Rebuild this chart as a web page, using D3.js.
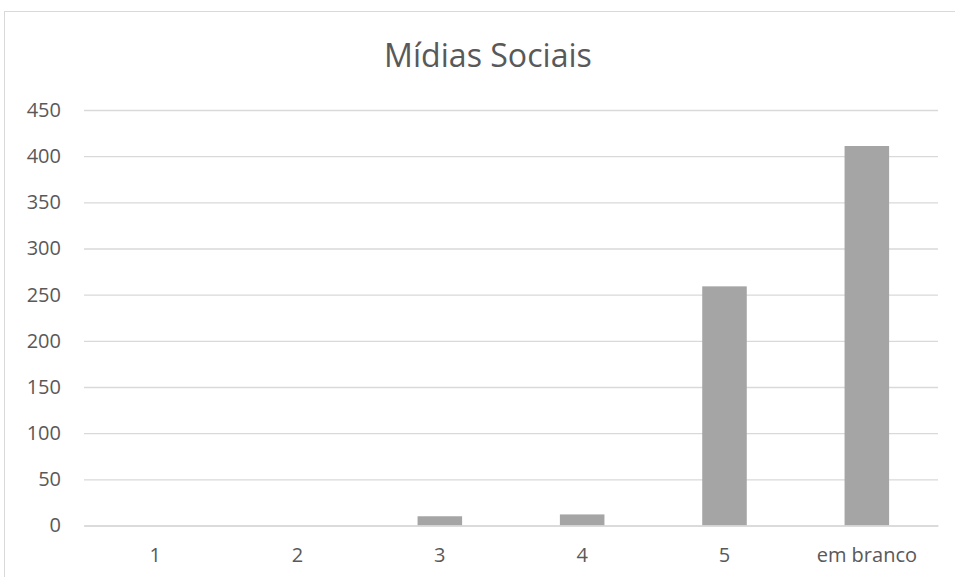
<!DOCTYPE html>
<html><head><meta charset="utf-8">
<script src="https://cdn.jsdelivr.net/npm/d3@7"></script>
<style>body{margin:0;background:#fff}svg{display:block}</style>
</head><body>
<script>
const categories = ["1","2","3","4","5","em branco"];
const values = [0,0,10,12,259,411];
const yTicks = [0,50,100,150,200,250,300,350,400,450];
const title = "Mídias Sociais";

const W=955,H=577;
const svg=d3.select("body").append("svg").attr("width",W).attr("height",H);
svg.append("rect").attr("x",4.5).attr("y",11.5).attr("width",W+10).attr("height",H+10)
  .attr("fill","#fff").attr("stroke","#D9D9D9");
const m={left:84,right:938,top:110,bottom:525.5};
const x=d3.scaleBand().domain(categories).range([m.left,m.right]).paddingInner(0.687).paddingOuter(0.3435);
const y=d3.scaleLinear().domain([0,450]).range([m.bottom,m.top]);
const font="'Open Sans', sans-serif";
const t=svg.append("text").attr("x",488).attr("y",67).attr("text-anchor","middle")
  .attr("font-family",font).attr("font-size",28).attr("fill","#595959").text(title);
const tw=t.node().getComputedTextLength();
t.attr("font-size",28*208/tw);
const ya=svg.append("g").attr("transform",`translate(${m.left},0)`)
  .call(d3.axisLeft(y).tickValues(yTicks).tickSize(-(m.right-m.left)).tickPadding(23));
ya.select(".domain").remove();
ya.selectAll("line").attr("stroke","#D9D9D9").attr("stroke-width",1.3);
ya.selectAll("text").attr("font-family",font).attr("font-size",20).attr("fill","#595959");
svg.selectAll("rect.bar").data(values).join("rect").attr("class","bar")
  .attr("x",(d,i)=>x(categories[i])).attr("width",x.bandwidth())
  .attr("y",d=>y(d)).attr("height",d=>y(0)-y(d)).attr("fill","#A5A5A5");
const xa=svg.append("g").attr("transform",`translate(0,${m.bottom})`)
  .call(d3.axisBottom(x).tickSize(0).tickPadding(22));
xa.select(".domain").attr("stroke","#D9D9D9").attr("stroke-width",1.3);
xa.selectAll("text").attr("font-family",font).attr("font-size",20).attr("fill","#595959");
</script>
</body></html>
